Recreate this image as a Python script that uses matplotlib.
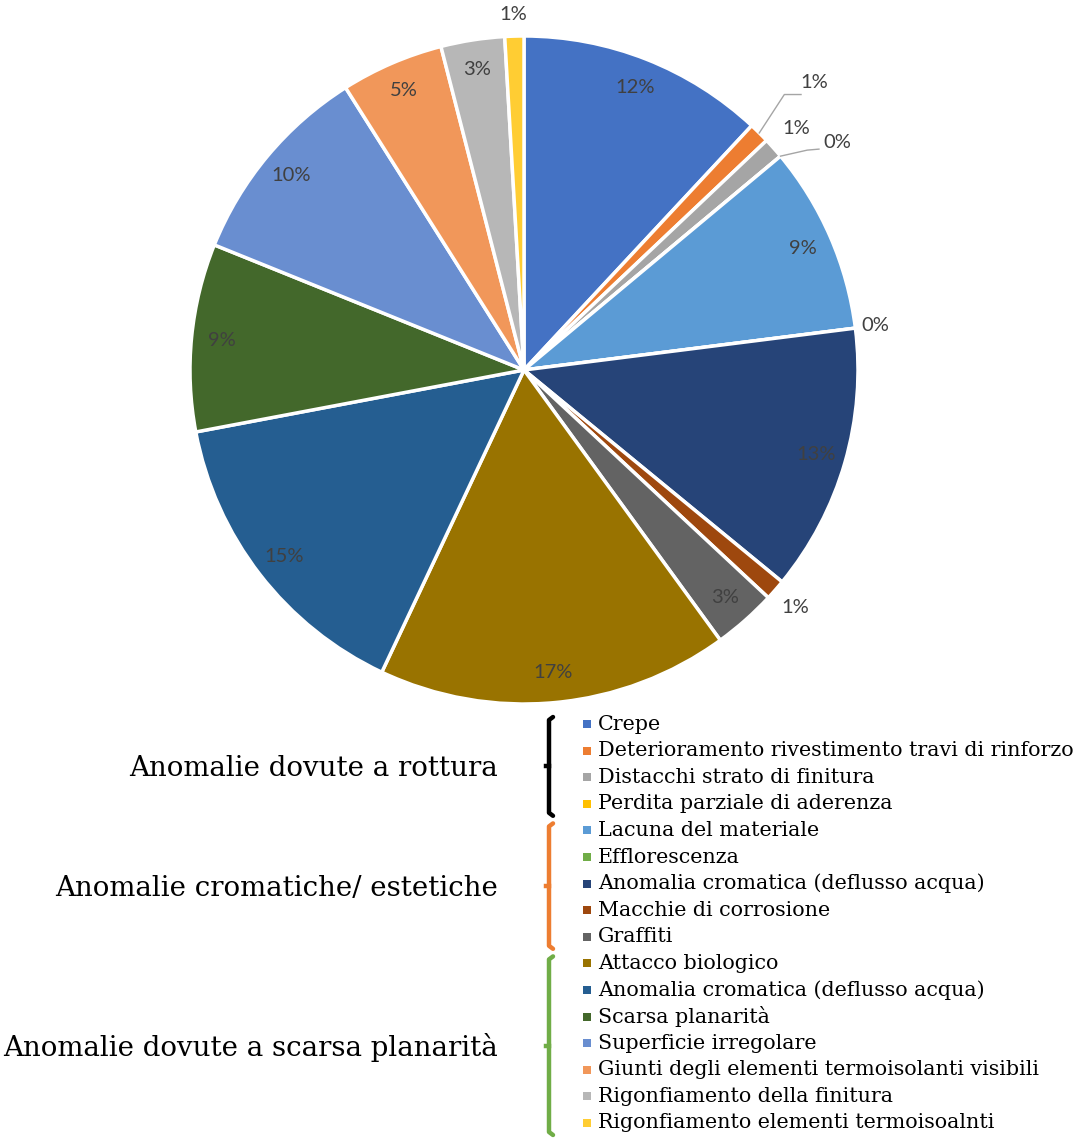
import numpy as np
import matplotlib.pyplot as plt

labels = ["Crepe", "Deterioramento rivestimento travi di rinforzo",
          "Distacchi strato di finitura", "Perdita parziale di aderenza",
          "Lacuna del materiale", "Efflorescenza",
          "Anomalia cromatica (deflusso acqua)", "Macchie di corrosione",
          "Graffiti", "Attacco biologico",
          "Anomalia cromatica (deflusso acqua)", "Scarsa planarità",
          "Superficie irregolare",
          "Giunti degli elementi termoisolanti visibili",
          "Rigonfiamento della finitura",
          "Rigonfiamento elementi termoisoalnti"]
values = [11.94, 1.0, 1.0, 0.0, 9.06, 0.0, 12.94, 1.0, 3.06, 17.0,
          15.03, 9.08, 9.92, 4.97, 3.08, 0.92]
colors = ["#4472C4", "#ED7D31", "#A5A5A5", "#FFC000", "#5B9BD5", "#70AD47",
          "#264478", "#9E480E", "#636363", "#997300", "#255E91", "#43682B",
          "#698ED0", "#F1975A", "#B7B7B7", "#FFCD33"]
# label radius as fraction of pie radius (outside ones > 1)
label_r = [0.91, 1.0, 1.09, 1.0, 0.91, 1.06, 0.91, 1.08, 0.91, 0.91,
           0.91, 0.91, 0.91, 0.91, 0.91, 1.065]
groups = [("Anomalie dovute a rottura", 0, 3, "black"),
          ("Anomalie cromatiche/ estetiche", 4, 8, "#ED7D31"),
          ("Anomalie dovute a scarsa planarità", 9, 15, "#70AD47")]

W, H = 1082, 1138
fig = plt.figure(figsize=(W / 100, H / 100), dpi=100)

cx, cy, R = 524, 370, 334
ax = fig.add_axes([(cx - R) / W, 1 - (cy + R) / H, 2 * R / W, 2 * R / H])
wedges, _ = ax.pie(values, colors=colors, startangle=90, counterclock=False,
                   wedgeprops=dict(edgecolor="white", linewidth=2.5))
ax.set_xlim(-1, 1)
ax.set_ylim(-1, 1)
ax.set_aspect("equal")
ax.axis("off")

pct_font = dict(family="Lato", fontsize=14.5, color="#404040",
                ha="center", va="center")
for i, w in enumerate(wedges):
    mid = np.deg2rad((w.theta1 + w.theta2) / 2)
    txt = f"{round(values[i])}%"
    if i == 1:
        # leader line label
        ex, ey = np.cos(mid), np.sin(mid)
        ax.plot([ex, ex + 0.075, ex + 0.125], [ey, ey + 0.115, ey + 0.115],
                color="#A5A5A5", lw=1)
        ax.text(ex + 0.165, ey + 0.15, txt, **pct_font)
    elif i == 3:
        a = np.deg2rad(w.theta1)
        ex, ey = np.cos(a), np.sin(a)
        ax.plot([ex, ex + 0.08, ex + 0.115], [ey, ey + 0.018, ey + 0.021],
                color="#A5A5A5", lw=1)
        ax.text(ex + 0.17, ey + 0.04, txt, **pct_font)
    else:
        r = label_r[i]
        ax.text(r * np.cos(mid), r * np.sin(mid), txt, **pct_font)

# overlay in pixel coordinates for legend and group brackets
ov = fig.add_axes([0, 0, 1, 1])
ov.set_xlim(0, W)
ov.set_ylim(H, 0)
ov.axis("off")

row0, step = 724, 26.6
for i, lab in enumerate(labels):
    y = row0 + i * step
    ov.add_patch(plt.Rectangle((583, y - 4), 8, 8, color=colors[i], lw=0))
    ov.text(598, y, lab, family="DejaVu Serif", fontsize=14.9,
            color="black", ha="left", va="center")

for name, a, b, col in groups:
    top = row0 + a * step - 7
    bot = row0 + b * step + 12
    mid = (top + bot) / 2
    ov.plot([553, 549, 549, 553], [top, top + 3, bot - 3, bot],
            color=col, lw=3.2, solid_capstyle="round", solid_joinstyle="round")
    ov.plot([549, 546], [mid, mid], color=col, lw=3.2)
    ov.text(498, mid + 2, name, family="DejaVu Serif", fontsize=19.9,
            color="black", ha="right", va="center")

fig.savefig("out.png", dpi=100)
